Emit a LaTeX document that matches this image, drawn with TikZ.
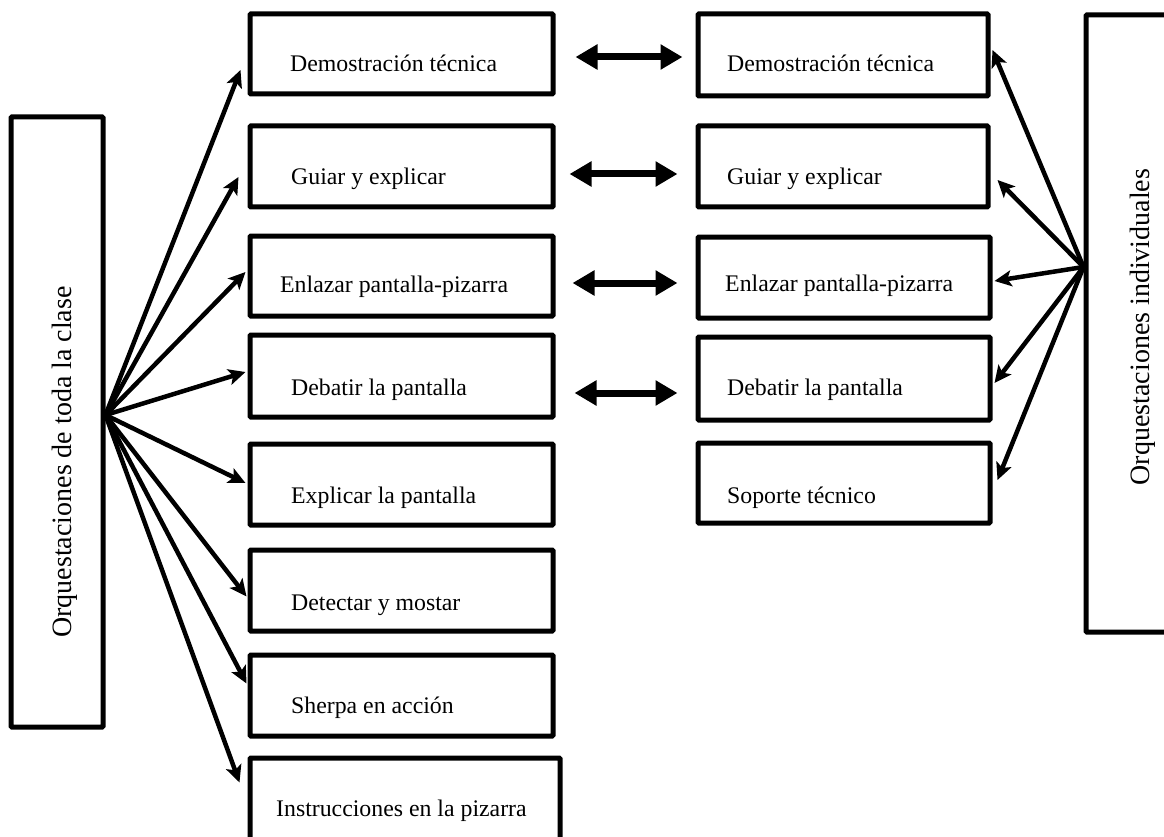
\documentclass[tikz,border=0pt]{standalone}
\usepackage{fontspec}
\setmainfont{Liberation Serif}
\usetikzlibrary{arrows.meta}
\tikzset{
  box/.style={draw=black, line width=5pt, rounded corners=1pt, fill=white, inner sep=0pt},
  txt/.style={inner sep=0pt, anchor=base west, font=\fontsize{23.8}{28}\selectfont},
  vtxt/.style={inner sep=0pt, rotate=90, font=\fontsize{28}{32}\selectfont},
  arr/.style={line width=4.5pt, -{Stealth[length=17pt,width=16pt,inset=4pt]}},
  dbl/.style={line width=7pt, {Triangle[length=22pt,width=24pt]}-{Triangle[length=22pt,width=24pt]}}
}
\begin{document}
\begin{tikzpicture}[x=1pt,y=-1pt]
\useasboundingbox (0,0) rectangle (1164,837);
\clip (0,0) rectangle (1164,837);
\fill[white] (0,0) rectangle (1164,837);

% tall boxes
\node[box, minimum width=92pt, minimum height=610pt] (L) at (57,422) {};
\node[vtxt] (Lt) at (65,462) {Orquestaciones de toda la clase};
\node[box, minimum width=114pt, minimum height=617pt] (R) at (1143,323.5) {};
\node[vtxt] (Rt) at (1143,327) {Orquestaciones individuales};

% middle column
\node[box, minimum width=303pt, minimum height=80pt] (m1) at (401.5,54) {};
\node[box, minimum width=303pt, minimum height=81pt] (m2) at (401.5,166.5) {};
\node[box, minimum width=303pt, minimum height=80pt] (m3) at (401.5,276) {};
\node[box, minimum width=303pt, minimum height=82pt] (m4) at (401.5,376) {};
\node[box, minimum width=303pt, minimum height=81pt] (m5) at (401.5,484.5) {};
\node[box, minimum width=303pt, minimum height=81pt] (m6) at (401.5,590.5) {};
\node[box, minimum width=303pt, minimum height=81pt] (m7) at (401.5,695.5) {};
\node[box, minimum width=310pt, minimum height=100pt] (m8) at (405,808) {};

\node[txt] (tm1) at (290,72) {Demostración técnica};
\node[txt] (tm2) at (291,185) {Guiar y explicar};
\node[txt] (tm3) at (280,292) {Enlazar pantalla-pizarra};
\node[txt] (tm4) at (291,395) {Debatir la pantalla};
\node[txt] (tm5) at (291,503) {Explicar la pantalla};
\node[txt] (tm6) at (291,610) {Detectar y mostar};
\node[txt] (tm7) at (291,713) {Sherpa en acción};
\node[txt] (tm8) at (276,816) {Instrucciones en la pizarra};

% right column
\node[box, minimum width=290pt, minimum height=82pt] (r1) at (843,55) {};
\node[box, minimum width=290pt, minimum height=81pt] (r2) at (843,166.5) {};
\node[box, minimum width=292pt, minimum height=81pt] (r3) at (844,277.5) {};
\node[box, minimum width=292pt, minimum height=83pt] (r4) at (844,378.5) {};
\node[box, minimum width=292pt, minimum height=80pt] (r5) at (844,483) {};

\node[txt] (tr1) at (727,72) {Demostración técnica};
\node[txt] (tr2) at (727,185) {Guiar y explicar};
\node[txt] (tr3) at (725,291) {Enlazar pantalla-pizarra};
\node[txt] (tr4) at (727,395) {Debatir la pantalla};
\node[txt] (tr5) at (727,503) {Soporte técnico};

% hubs
\coordinate (hubL) at ([yshift=7pt]L.east);
\coordinate (hubR) at ([yshift=56.5pt]R.west);

% left arrows
\draw[arr] (hubL) -- ([shift={(-7,16)}]m1.west);
\draw[arr] (hubL) -- ([shift={(-9,10.5)}]m2.west);
\draw[arr] (hubL) -- ([shift={(-2,-4)}]m3.west);
\draw[arr] (hubL) -- ([shift={(-2,-4)}]m4.west);
\draw[arr] (hubL) -- ([shift={(-2,-1.5)}]m5.west);
\draw[arr] (hubL) -- ([shift={(-1,6)}]m6.west);
\draw[arr] (hubL) -- ([shift={(-1,-12)}]m7.west);
\draw[arr] (hubL) -- ([shift={(-8,27)}]m8.north west);

% right arrows
\draw[arr] (hubR) -- ([shift={(2,-5)}]r1.east);
\draw[arr] (hubR) -- ([shift={(7,13.5)}]r2.east);
\draw[arr] (hubR) -- ([shift={(2,3.5)}]r3.east);
\draw[arr] (hubR) -- ([shift={(2,4.5)}]r4.east);
\draw[arr] (hubR) -- ([shift={(5,-3)}]r5.east);

% double arrows
\draw[dbl] ([shift={(20,3)}]m1.east) -- ([shift={(-13,2)}]r1.west);
\draw[dbl] ([shift={(14,7.5)}]m2.east) -- ([shift={(-18,7.5)}]r2.west);
\draw[dbl] ([shift={(17,7)}]m3.east) -- ([shift={(-18,5.5)}]r3.west);
\draw[dbl] ([shift={(19,17)}]m4.east) -- ([shift={(-18,14.5)}]r4.west);
\end{tikzpicture}
\end{document}
